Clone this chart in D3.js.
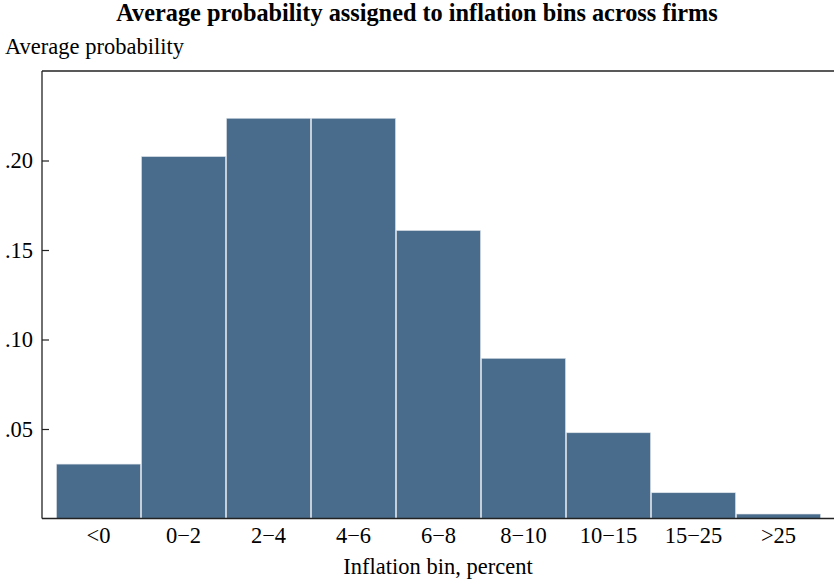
<!DOCTYPE html>
<html><head><meta charset="utf-8">
<script src="https://cdn.jsdelivr.net/npm/d3@7"></script>
<style>body{margin:0;background:#fff}svg{display:block}text{font-family:"Liberation Serif","Times New Roman",serif;fill:#000}</style>
</head><body><svg id="c" width="834" height="581"></svg>
<script>
const categories = ["<0","0\u22122","2\u22124","4\u22126","6\u22128","8\u221210","10\u221215","15\u221225",">25"];
const values = [0.0304,0.2022,0.2236,0.2236,0.1609,0.0895,0.0479,0.0144,0.0025];
const yTicks = [0.05,0.10,0.15,0.20];
const yTickLabels = [".05",".10",".15",".20"];

const svg = d3.select("#c");
const L = 42, R = 834, T = 71, B = 518.5;
const FS = "22.5px";
const x = d3.scaleBand().domain(categories).range([56, 821]).padding(0);
const y = d3.scaleLinear().domain([0, 0.25]).range([B, T]);

svg.append("text").attr("x",417).attr("y",21).attr("text-anchor","middle")
  .style("font-weight","bold").style("font-size","24.3px")
  .text("Average probability assigned to inflation bins across firms");
svg.append("text").attr("x",5).attr("y",54).style("font-size",FS).text("Average probability");

svg.append("g").selectAll("rect").data(values).join("rect")
  .attr("x",(d,i)=>x(categories[i])+0.5)
  .attr("width",x.bandwidth()-1)
  .attr("y",d=>y(d))
  .attr("height",d=>B-y(d))
  .attr("fill","#4a6c8c")
  .attr("stroke","#dce3ea").attr("stroke-width",0.6);

svg.append("line").attr("x1",L).attr("x2",R).attr("y1",T).attr("y2",T).attr("stroke","#222").attr("stroke-width",1.3);
svg.append("line").attr("x1",L).attr("x2",R).attr("y1",B).attr("y2",B).attr("stroke","#222").attr("stroke-width",1.3);
svg.append("line").attr("x1",L).attr("x2",L).attr("y1",T).attr("y2",B).attr("stroke","#222").attr("stroke-width",1.3);

const ya = svg.append("g").attr("transform",`translate(${L},0)`)
  .call(d3.axisLeft(y).tickValues(yTicks).tickSize(-7).tickPadding(9).tickFormat((d,i)=>yTickLabels[i]));
ya.select(".domain").remove();
ya.selectAll("line").attr("stroke","#222").attr("stroke-width",1.2);
ya.selectAll("text").style("font-size",FS).attr("dy","0.33em").attr("font-family","Liberation Serif");

const xa = svg.append("g").attr("transform",`translate(0,${B})`)
  .call(d3.axisBottom(x).tickSize(0).tickPadding(9));
xa.select(".domain").remove();
xa.selectAll("text").style("font-size",FS).attr("font-family","Liberation Serif");

svg.append("text").attr("x",438).attr("y",574).attr("text-anchor","middle").style("font-size",FS).text("Inflation bin, percent");
</script></body></html>
